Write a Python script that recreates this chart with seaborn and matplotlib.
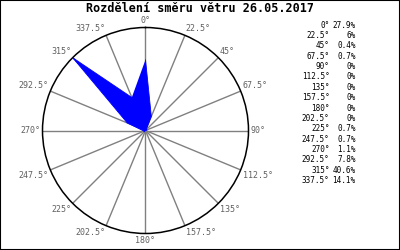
import numpy as np
import matplotlib
matplotlib.use("Agg")
import matplotlib.pyplot as plt
import seaborn as sns
import pandas as pd

title = "Rozdělení směru větru 26.05.2017"
directions = [0, 22.5, 45, 67.5, 90, 112.5, 135, 157.5, 180, 202.5, 225, 247.5, 270, 292.5, 315, 337.5]
dir_labels = ["0°", "22.5°", "45°", "67.5°", "90°", "112.5°", "135°", "157.5°", "180°",
              "202.5°", "225°", "247.5°", "270°", "292.5°", "315°", "337.5°"]
percent = [27.9, 6, 0.4, 0.7, 0, 0, 0, 0, 0, 0, 0.7, 0.7, 1.1, 7.8, 40.6, 14.1]

sns.set_style("white")
plt.rcParams['font.family'] = ['DejaVu Sans Mono']

fig = plt.figure(figsize=(4, 2.5), dpi=100)
W, H = 400, 250
cx, cy, R = 145.5, 130.5, 103
ax = fig.add_axes([(cx - R) / W, (H - cy - R) / H, 2 * R / W, 2 * R / H], projection='polar')
ax.set_theta_zero_location('N')
ax.set_theta_direction(-1)

theta = np.deg2rad(directions)
df = pd.DataFrame({"theta": np.append(theta, theta[0]), "r": percent + [percent[0]]})
rmax = max(percent)
ax.fill(df["theta"], df["r"], color="#0000ff", zorder=3, linewidth=0)
sns.lineplot(data=df, x="theta", y="r", sort=False, ax=ax, color="#0000ff", linewidth=0.6, zorder=4)
ax.set_ylim(0, rmax)
ax.set_yticks([])
ax.set_thetagrids(directions, labels=[""] * len(directions))
ax.grid(True, color="#808080", linewidth=1.0)
ax.spines['polar'].set_color('black')
ax.spines['polar'].set_linewidth(1.1)
ax.set_xlabel("")
ax.set_ylabel("")

for ang, lab, th in zip(directions, dir_labels, theta):
    s, c = np.sin(th), np.cos(th)
    ha = 'center' if abs(s) < 1e-6 else ('left' if s > 0 else 'right')
    va = 'center' if abs(c) < 1e-6 else ('bottom' if c > 0 else 'top')
    ax.text(th, rmax * 1.02, lab, ha=ha, va=va, fontsize=6, color="#606060")

fig.text(0.5, 1 - 8.5 / H, title, ha='center', va='center', fontsize=8.5, fontweight='bold', color='black')

y0, dy = 25, 10.38
for i, (lab, p) in enumerate(zip(dir_labels, percent)):
    y = 1 - (y0 + i * dy) / H
    fig.text(329.5 / W, y, lab, ha='right', va='center', fontsize=5.5, color='black')
    fig.text(355.5 / W, y, f"{p:g}%", ha='right', va='center', fontsize=5.5, color='black')

fig.patches.append(plt.Rectangle((0, 0), 1, 1, transform=fig.transFigure, fill=False,
                                 edgecolor='black', linewidth=1.5, zorder=10))
fig.savefig("out.png", dpi=100)
